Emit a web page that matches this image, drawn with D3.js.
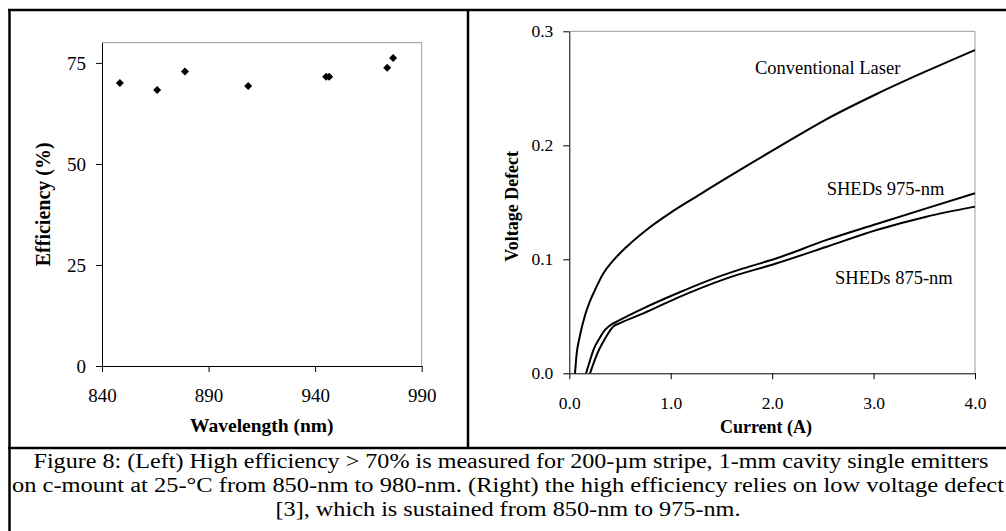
<!DOCTYPE html>
<html>
<head>
<meta charset="utf-8">
<script src="https://cdn.jsdelivr.net/npm/d3@7"></script>
<style>
  html, body { margin: 0; padding: 0; background: #fff; }
  svg { display: block; }
  text { font-family: "Liberation Serif", "Times New Roman", serif; fill: #000; }
</style>
</head>
<body>
<svg id="chart" width="1006" height="531"></svg>
<script>
// ---------- Data ----------
const wavelengthNm = [848.4, 865.9, 878.9, 908.6, 945.2, 946.6, 973.8, 976.6];
const efficiencyPct = [70.0, 68.3, 72.9, 69.3, 71.6, 71.6, 73.8, 76.2];

const effTicks = [0, 25, 50, 75];
const wlTicks = [840, 890, 940, 990];

const convCurrent = [0.056, 0.073, 0.10, 0.155, 0.20, 0.253, 0.335, 0.434, 0.566, 0.763, 1.0, 1.289, 1.552, 1.815, 2.045, 2.538, 3.03, 3.52, 4.0];
const convDefect  = [0.0, 0.0175, 0.031, 0.051, 0.0625, 0.073, 0.0875, 0.099, 0.111, 0.126, 0.141, 0.157, 0.1715, 0.1855, 0.1975, 0.223, 0.245, 0.265, 0.2836];

const s975Current = [0.165, 0.20, 0.237, 0.30, 0.352, 0.40, 0.467, 0.73, 1.059, 1.388, 1.716, 2.045, 2.538, 3.03, 3.52, 4.0];
const s975Defect  = [0.0, 0.010, 0.0204, 0.031, 0.038, 0.042, 0.0453, 0.057, 0.070, 0.082, 0.092, 0.1009, 0.117, 0.131, 0.1447, 0.158];

const s875Current = [0.204, 0.24, 0.27, 0.35, 0.434, 0.50, 0.73, 1.059, 1.552, 2.045, 2.538, 3.03, 3.52, 4.0];
const s875Defect  = [0.0, 0.009, 0.016, 0.030, 0.041, 0.044, 0.0526, 0.066, 0.0833, 0.0965, 0.111, 0.1257, 0.1374, 0.1462];

const vdTicks = [0, 0.1, 0.2, 0.3];
const curTicks = [0, 1, 2, 3, 4];

const seriesLabels = ["Conventional Laser", "SHEDs 975-nm", "SHEDs 875-nm"];
const captionLines = [
  "Figure 8: (Left) High efficiency > 70% is measured for 200-\u00b5m stripe, 1-mm cavity single emitters",
  "on c-mount at 25-\u00b0C from 850-nm to 980-nm. (Right) the high efficiency relies on low voltage defect",
  "[3], which is sustained from 850-nm to 975-nm."
];

// ---------- Drawing ----------
const svg = d3.select("#chart");
svg.append("rect").attr("width", 1006).attr("height", 531).attr("fill", "#fff");

// Table frame
const frame = svg.append("g").attr("stroke", "#000").attr("stroke-width", 2.5);
frame.append("line").attr("x1", 9.5).attr("x2", 9.5).attr("y1", 9).attr("y2", 531);
frame.append("line").attr("x1", 8).attr("x2", 1006).attr("y1", 10).attr("y2", 10);
frame.append("line").attr("x1", 468).attr("x2", 468).attr("y1", 10).attr("y2", 448);
frame.append("line").attr("x1", 8).attr("x2", 1006).attr("y1", 448).attr("y2", 448);

// ----- Left chart -----
const xL = d3.scaleLinear().domain([840, 990]).range([102, 421.7]);
const yL = d3.scaleLinear().domain([0, 80]).range([366, 42.7]);

const gL = svg.append("g");
gL.append("path")
  .attr("d", `M${xL(840)},${yL(80)}H${xL(990)}V${yL(0)}`)
  .attr("fill", "none").attr("stroke", "#9a9a9a").attr("stroke-width", 1);

const axL = gL.append("g").attr("transform", `translate(${xL(840)},0)`)
  .call(d3.axisLeft(yL).tickValues(effTicks).tickSize(6).tickSizeOuter(0).tickPadding(10).tickFormat(d3.format("d")));
const axB = gL.append("g").attr("transform", `translate(0,${yL(0)})`)
  .call(d3.axisBottom(xL).tickValues(wlTicks).tickSize(6).tickSizeOuter(0).tickPadding(17).tickFormat(d3.format("d")));
[axL, axB].forEach(a => {
  a.selectAll("text").style("font-family", "Liberation Serif").style("font-size", "19px").attr("fill", "#000");
  a.select(".domain").attr("stroke", "#000");
  a.selectAll(".tick line").attr("stroke", "#000");
});

gL.selectAll("path.pt").data(wavelengthNm).join("path").attr("class", "pt")
  .attr("d", d3.symbol().type(d3.symbolSquare).size(32))
  .attr("transform", (d, i) => `translate(${xL(d)},${yL(efficiencyPct[i])}) rotate(45)`)
  .attr("fill", "#000");

svg.append("text").attr("transform", `translate(50,${(yL(0) + yL(80)) / 2}) rotate(-90)`)
  .attr("text-anchor", "middle").style("font-weight", "bold").style("font-size", "20px")
  .text("Efficiency (%)");
svg.append("text").attr("x", (xL(840) + xL(990)) / 2).attr("y", 432)
  .attr("text-anchor", "middle").style("font-weight", "bold").style("font-size", "19.5px")
  .text("Wavelength (nm)");

// ----- Right chart -----
const xR = d3.scaleLinear().domain([0, 4]).range([569.3, 975]);
const yR = d3.scaleLinear().domain([0, 0.3]).range([373.3, 31.3]);

const gR = svg.append("g");
gR.append("path")
  .attr("d", `M${xR(0)},${yR(0.3)}H${xR(4)}V${yR(0)}`)
  .attr("fill", "none").attr("stroke", "#9a9a9a").attr("stroke-width", 1);

const axRL = gR.append("g").attr("transform", `translate(${xR(0)},0)`)
  .call(d3.axisLeft(yR).tickValues(vdTicks).tickSize(6).tickSizeOuter(0).tickPadding(10).tickFormat(d3.format(".1f")));
const axRB = gR.append("g").attr("transform", `translate(0,${yR(0)})`)
  .call(d3.axisBottom(xR).tickValues(curTicks).tickSize(6).tickSizeOuter(0).tickPadding(17).tickFormat(d3.format(".1f")));
[axRL, axRB].forEach(a => {
  a.selectAll("text").style("font-family", "Liberation Serif").style("font-size", "17.5px").attr("fill", "#000");
  a.select(".domain").attr("stroke", "#000");
  a.selectAll(".tick line").attr("stroke", "#000");
});

const line = d3.line().x(d => xR(d[0])).y(d => yR(d[1])).curve(d3.curveMonotoneX);
const series = [
  d3.zip(convCurrent, convDefect),
  d3.zip(s975Current, s975Defect),
  d3.zip(s875Current, s875Defect)
];
gR.selectAll("path.curve").data(series).join("path").attr("class", "curve")
  .attr("d", line).attr("fill", "none").attr("stroke", "#000").attr("stroke-width", 2)
  .attr("stroke-linejoin", "round");

const labelPos = [[755, 74], [826.7, 195], [835, 284]];
gR.selectAll("text.lbl").data(seriesLabels).join("text").attr("class", "lbl")
  .attr("x", (d, i) => labelPos[i][0]).attr("y", (d, i) => labelPos[i][1])
  .style("font-size", "18.5px").text(d => d);

svg.append("text").attr("transform", `translate(518,${(yR(0) + yR(0.3)) / 2 + 4}) rotate(-90)`)
  .attr("text-anchor", "middle").style("font-weight", "bold").style("font-size", "18px")
  .text("Voltage Defect");
svg.append("text").attr("x", 766).attr("y", 433)
  .attr("text-anchor", "middle").style("font-weight", "bold").style("font-size", "18px")
  .text("Current (A)");

// ----- Caption (stretched horizontally like the reference) -----
const capWidths = [955, 992, 465];
const capCenters = [511, 508, 508];
svg.selectAll("text.cap").data(captionLines).join("text").attr("class", "cap")
  .attr("x", (d, i) => capCenters[i]).attr("y", (d, i) => 468 + i * 24)
  .attr("text-anchor", "middle").style("font-size", "20px")
  .attr("textLength", (d, i) => capWidths[i]).attr("lengthAdjust", "spacingAndGlyphs")
  .text(d => d);
</script>
</body>
</html>
